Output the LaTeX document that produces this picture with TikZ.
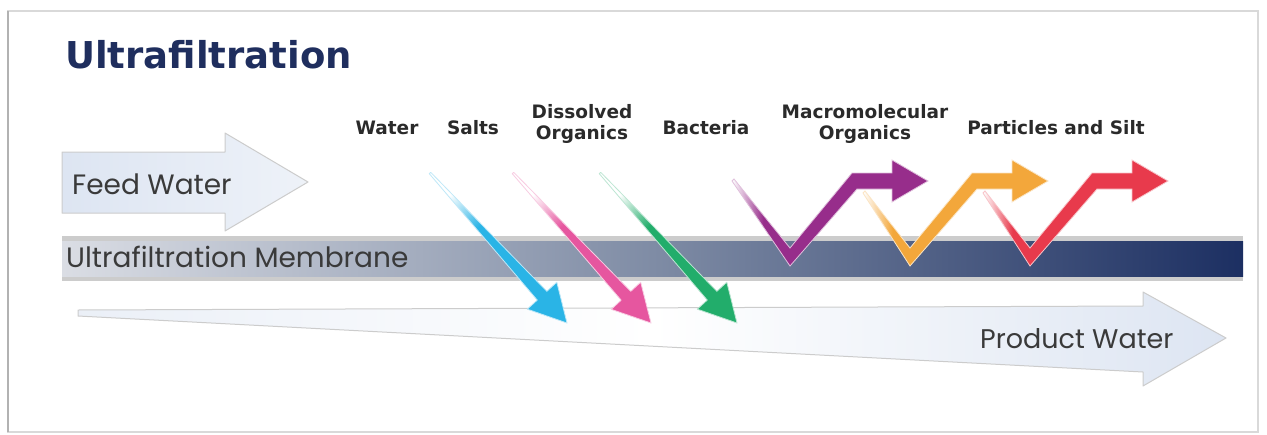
\documentclass[tikz,border=0pt]{standalone}
\usepackage{fontspec}
\setmainfont{DejaVu Sans}
\newfontfamily\geofont{Poppins}
\usepackage{xcolor}
\usetikzlibrary{calc}
\definecolor{ufnavy}{HTML}{1F2E5E}
\definecolor{ufink}{HTML}{2A2A2A}
\definecolor{ufgrey}{HTML}{3A3A3A}
\definecolor{ufbarl}{HTML}{DADDE4}
\definecolor{ufbarm}{HTML}{7F8CA5}
\definecolor{ufbard}{HTML}{1C2F62}
\definecolor{ufpale}{HTML}{DDE5F2}
\definecolor{ufcyan}{HTML}{2AB4E6}
\definecolor{ufpink}{HTML}{E6569F}
\definecolor{ufgreen}{HTML}{22AD6B}
\definecolor{ufpurple}{HTML}{972D8B}
\definecolor{uforange}{HTML}{F3A73B}
\definecolor{ufred}{HTML}{E83A4C}
\colorlet{arrcol}{ufcyan}
\pgfdeclarehorizontalshading[arrcol]{fadein}{100bp}{color(0bp)=(white); color(25bp)=(white); color(40bp)=(arrcol); color(100bp)=(arrcol)}
\pgfdeclarehorizontalshading[arrcol]{fadeshort}{100bp}{color(0bp)=(white); color(25bp)=(white); color(33bp)=(arrcol); color(100bp)=(arrcol)}

\begin{document}
\begin{tikzpicture}[
    x=1pt,y=-1pt,
    ttl/.style    = {font=\fontsize{37}{42}\selectfont\bfseries, text=ufnavy,
                     inner sep=0pt, anchor=base west},
    lbl/.style    = {font=\fontsize{18.5}{21}\selectfont\bfseries, text=ufink,
                     align=center, inner sep=0pt},
    big/.style    = {font=\geofont\fontsize{28}{32}\selectfont, text=ufgrey,
                     inner sep=0pt, anchor=base west},
    wide/.style   = {draw=gray!40, line width=1pt, line join=round},
    memb/.style   = {left color=ufbarl, right color=ufbard, middle color=ufbarm},
    pass/.style   = {shading=fadein, shading angle=-47.6, draw=arrcol!30,
                     line width=0.8pt, line join=round},
    reject/.style = {shading=fadeshort, draw=arrcol!30, line width=0.8pt,
                     line join=miter},
  ]

  \useasboundingbox (0,0) rectangle (1267,434);
  \fill[white] (0,0) rectangle (1267,434);
  \draw[gray!30, line width=1.2pt] (8,11) rectangle (1258,432);
  \draw[gray!60, line width=2pt] (8,11) -- (8,432);

  \node[ttl] (title) at (65,68) {Ultrafiltration};

  % feed side
  \draw[wide, left color=ufpale, right color=ufpale!50]
       (62,152) -- (225,152) -- (225,133) -- (308,182) -- (225,231)
       -- (225,213) -- (62,213) -- cycle;
  \node[big] (feed) at (72,194) {Feed Water};

  % membrane
  \fill[gray!40] (62,236) rectangle (1243,281);
  \shade[memb] (62,241) rectangle (1243,276);
  \node[big] (membrane) at (66,267) {Ultrafiltration Membrane};

  % permeate side
  \draw[wide, left color=ufpale!60, right color=ufpale, middle color=white]
       (78,310) -- (1143,306) -- (1143,292) -- (1226,338) -- (1143,386)
       -- (1143,372) -- (78,316) -- cycle;
  \node[big,font=\geofont\fontsize{27}{32}\selectfont] (product) at (980,348) {Product Water};

  \node[lbl,anchor=base]  (water)     at (387,134) {Water};
  \node[lbl,anchor=base]  (salts)     at (473,134) {Salts};
  \node[lbl,anchor=north] (dissolved) at (582,104) {Dissolved\\Organics};
  \node[lbl,anchor=base]  (bacteria)  at (706,134) {Bacteria};
  \node[lbl,anchor=north] (macro)     at (865,104) {Macromolecular\\Organics};
  \node[lbl,anchor=base]  (silt)      at (1056,134) {Particles and Silt};

  % rejected
  \foreach \col/\vx/\sx/\sy in {ufred/1030/-46/-70, uforange/910/-46/-70,
                                ufpurple/790/-57/-82} {
    \colorlet{arrcol}{\col}
    \begin{scope}[shift={(\vx,262)}]
      \shadedraw[reject] (\sx-1,\sy+1) -- (0,4) -- (67,-73) -- (102,-73)
         -- (102,-60) -- (138,-81) -- (102,-102) -- (102,-89) -- (62,-89)
         -- (0,-14) -- (\sx+1,\sy-1) -- cycle;
    \end{scope}
  }

  % passing through
  \foreach \col/\sx/\tx in {ufcyan/430/567, ufpink/513/651, ufgreen/600/737} {
    \colorlet{arrcol}{\col}
    \coordinate (pstart) at (\sx,173);
    \coordinate (ptip)   at (\tx,323);
    \coordinate (pbase)  at ($(ptip)!37pt!(pstart)$);
    \shadedraw[pass] ($(pstart)!1pt!90:(ptip)$) -- ($(pbase)!6.5pt!90:(ptip)$)
       -- ($(pbase)!20pt!90:(ptip)$) -- (ptip) -- ($(pbase)!20pt!-90:(ptip)$)
       -- ($(pbase)!6.5pt!-90:(ptip)$) -- ($(pstart)!1pt!-90:(ptip)$) -- cycle;
  }

\end{tikzpicture}
\end{document}
